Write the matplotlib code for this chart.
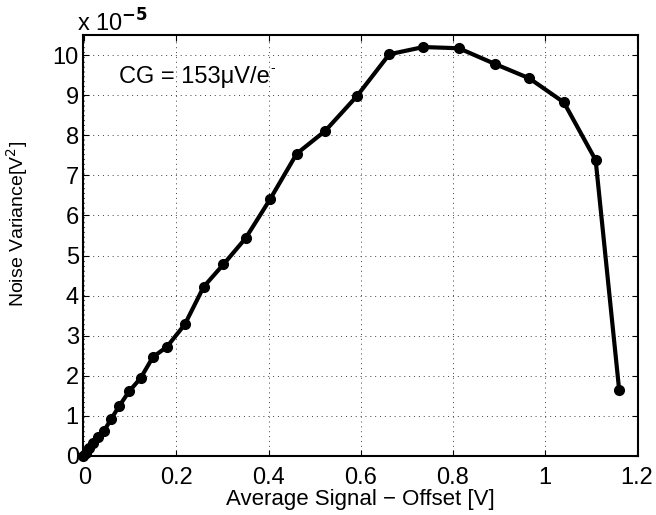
import matplotlib.pyplot as plt
import numpy as np

# Photon transfer curve data (signal in V, variance in 1e-5 V^2)
signal = [-0.003, 0.004, 0.011, 0.019, 0.030, 0.043, 0.058, 0.076, 0.097,
          0.122, 0.149, 0.179, 0.218, 0.259, 0.302, 0.350, 0.403, 0.461,
          0.523, 0.592, 0.662, 0.736, 0.813, 0.891, 0.966, 1.041, 1.110, 1.161]
variance = [0.0, 0.07, 0.19, 0.32, 0.48, 0.63, 0.92, 1.25, 1.61,
            1.94, 2.47, 2.72, 3.28, 4.22, 4.78, 5.43, 6.40, 7.54,
            8.11, 8.98, 10.02, 10.20, 10.17, 9.78, 9.42, 8.82, 7.38, 1.65]

xticks = [0, 0.2, 0.4, 0.6, 0.8, 1.0, 1.2]
xticklabels = ["0", "0.2", "0.4", "0.6", "0.8", "1", "1.2"]
yticks = list(range(0, 11))

plt.rcParams['font.family'] = ['Liberation Sans', 'DejaVu Sans']

fig = plt.figure(figsize=(6.56, 5.15), dpi=100)
ax = fig.add_axes([0.1265, 0.1146, 0.8461, 0.8174])

ax.plot(signal, variance, color='black', lw=3, marker='o', ms=7,
        clip_on=False, zorder=3)

ax.set_xlim(-0.003, 1.202)
ax.set_ylim(0, 10.5)
ax.set_xticks(xticks)
ax.set_xticklabels(xticklabels)
ax.set_yticks(yticks)
ax.tick_params(direction='in', top=True, right=True, labelsize=17,
               length=4, width=0.8)
ax.tick_params(axis='x', pad=8)
ax.tick_params(axis='y', pad=3)
ax.grid(True, linestyle=(0, (1, 4)), color='#404040', linewidth=0.7)
for s in ax.spines.values():
    s.set_linewidth(1.5)

ax.set_xlabel("Average Signal \u2212 Offset [V]", fontsize=16, labelpad=0)
ax.set_ylabel("Noise Variance[V$^2$]", fontsize=14)
ax.yaxis.set_label_coords(-0.095, 0.55)

fig.text(0.118, 0.938, "x 10$^{\\mathbf{-5}}$", fontsize=17, ha='left', va='baseline')
ax.text(0.065, 0.90, "CG = 153\u03bcV/e", transform=ax.transAxes,
        fontsize=17, ha='left', va='center')
# small superscript charge sign after "e"
ax.text(0.337, 0.922, "-", transform=ax.transAxes,
        fontsize=10, ha='left', va='center')

fig.savefig("out.png", dpi=100)
